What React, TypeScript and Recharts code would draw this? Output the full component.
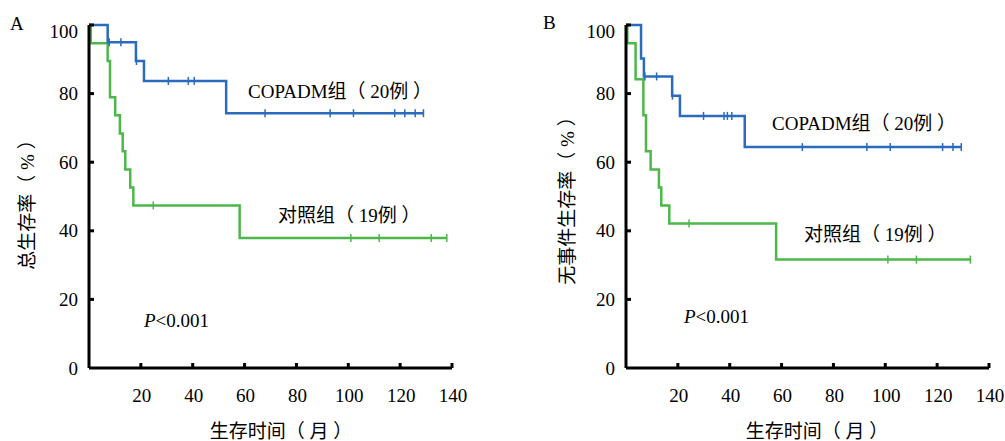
import { Line, LineChart, XAxis, YAxis } from 'recharts'

// Panel A: overall survival
const osCopadmTimes = [0, 7.2, 18.1, 21.2, 52.9]
const osCopadmSurv = [100, 95, 89.5, 83.7, 74.3]
const osCopadmCensor = [7.8, 12.3, 18.3, 30.6, 38.3, 40.6, 67.9, 93, 102, 117.9, 121.8, 125.8, 129]

const osControlTimes = [0, 0.7, 7.2, 8.1, 10.1, 11.9, 13.0, 14.0, 15.9, 17.1, 58.1]
const osControlSurv = [100, 94.7, 89.5, 78.9, 73.7, 68.4, 63.2, 57.9, 52.6, 47.4, 37.9]
const osControlCensor = [24.8, 101, 111.9, 132, 138]

// Panel B: event-free survival
const efsCopadmTimes = [0, 5.8, 6.9, 17.8, 20.8, 45.8]
const efsCopadmSurv = [100, 90.2, 85, 79.4, 73.5, 64.4]
const efsCopadmCensor = [7.3, 11.8, 17.9, 29.9, 37.8, 39.1, 40.8, 68, 92.9, 101.9, 122.1, 126.1, 129.3]

const efsControlTimes = [0, 0.5, 3.7, 6.7, 7.7, 9.5, 12.7, 13.6, 16.7, 57.9]
const efsControlSurv = [100, 94.7, 84.2, 73.7, 63.2, 57.9, 52.6, 47.4, 42.1, 31.6]
const efsControlCensor = [24.3, 101, 112, 132.8]

const xTicks = [20, 40, 60, 80, 100, 120, 140]
const yTicks = [0, 20, 40, 60, 80, 100]

const BLUE = '#2a6bbd'
const GREEN = '#4cb84a'
const FONT = '"Liberation Serif", "Times New Roman", "DejaVu Serif", "Noto Sans CJK SC"'

type Pt = { t: number; s: number; c: boolean }

// step points + censor marks (censor sits at the current step level)
function buildCurve(times: number[], surv: number[], censor: number[]): Pt[] {
  const pts: Pt[] = times.map((t, i) => ({ t, s: surv[i], c: false }))
  censor.forEach((t) => {
    let s = surv[0]
    times.forEach((et, i) => {
      if (et <= t) s = surv[i]
    })
    pts.push({ t, s, c: true })
  })
  return pts.sort((a, b) => a.t - b.t)
}

const XTick = (props: any) => {
  const { x, y, payload } = props
  return (
    <g>
      <line x1={x} y1={y} x2={x} y2={y - 5} stroke="#000" strokeWidth={3} />
      <text x={x + 1} y={y + 34} textAnchor="middle" style={{ fontFamily: FONT, fontSize: 19 }} fill="#000">
        {payload.value}
      </text>
    </g>
  )
}

const YTick = (props: any) => {
  const { x, y, payload } = props
  return (
    <g>
      {payload.value > 0 && <line x1={x} y1={y} x2={x + 5} y2={y} stroke="#000" strokeWidth={3} />}
      <text x={x - 11} y={Math.max(y, 31) + 6.5} textAnchor="end" style={{ fontFamily: FONT, fontSize: 19 }} fill="#000">
        {payload.value}
      </text>
    </g>
  )
}

const censorDot = (color: string) => (props: any) => {
  const { cx, cy, payload, index } = props
  if (!payload.c) return <g key={`n${index}`} />
  return <line key={`c${index}`} x1={cx} y1={cy - 4} x2={cx} y2={cy + 4} stroke={color} strokeWidth={1.5} />
}

function KmPanel({ blue, green }: { blue: Pt[]; green: Pt[] }) {
  return (
    <LineChart width={502} height={441} margin={{ top: 25, right: 50, left: 0, bottom: 0 }}>
      <XAxis
        type="number"
        dataKey="t"
        domain={[0, 140]}
        ticks={xTicks}
        height={73}
        tickSize={0}
        tickMargin={0}
        tickLine={false}
        tick={XTick}
        axisLine={{ stroke: '#000', strokeWidth: 3 }}
        allowDataOverflow
      />
      <YAxis
        type="number"
        domain={[0, 100]}
        ticks={yTicks}
        width={89}
        tickSize={0}
        tickMargin={0}
        tickLine={false}
        tick={YTick}
        axisLine={{ stroke: '#000', strokeWidth: 3 }}
      />
      <Line
        data={green}
        dataKey="s"
        type="stepAfter"
        stroke={GREEN}
        strokeWidth={2.5}
        dot={censorDot(GREEN)}
        activeDot={false}
        isAnimationActive={false}
      />
      <Line
        data={blue}
        dataKey="s"
        type="stepAfter"
        stroke={BLUE}
        strokeWidth={2.5}
        dot={censorDot(BLUE)}
        activeDot={false}
        isAnimationActive={false}
      />
    </LineChart>
  )
}

export default function App() {
  const osBlue = buildCurve(osCopadmTimes, osCopadmSurv, osCopadmCensor)
  const osGreen = buildCurve(osControlTimes, osControlSurv, osControlCensor)
  const efsBlue = buildCurve(efsCopadmTimes, efsCopadmSurv, efsCopadmCensor)
  const efsGreen = buildCurve(efsControlTimes, efsControlSurv, efsControlCensor)

  const txt = { style: { fontFamily: FONT, fontSize: 19 }, fill: '#000' }

  return (
    <div style={{ position: 'absolute', left: 0, top: 0, width: 1005, height: 441, background: '#fff', overflow: 'hidden' }}>
      <div style={{ position: 'absolute', left: 0, top: 0 }}>
        <KmPanel blue={osBlue} green={osGreen} />
      </div>
      <div style={{ position: 'absolute', left: 537, top: 0 }}>
        <KmPanel blue={efsBlue} green={efsGreen} />
      </div>
      <svg width={1005} height={441} style={{ position: 'absolute', left: 0, top: 0, pointerEvents: 'none' }}>
        <text x={10} y={30} {...txt}>A</text>
        <text x={543} y={29} {...txt}>B</text>

        <text x={248} y={98} {...txt}>COPADM组（ 20例 ）</text>
        <text x={278} y={222} {...txt}>对照组（ 19例 ）</text>
        <text x={144} y={327} {...txt}>
          <tspan fontStyle="italic">P</tspan>&lt;0.001
        </text>

        <text x={772} y={130} {...txt}>COPADM组（ 20例 ）</text>
        <text x={804} y={241} {...txt}>对照组（ 19例 ）</text>
        <text x={684} y={323} {...txt}>
          <tspan fontStyle="italic">P</tspan>&lt;0.001
        </text>

        <text x={281} y={438} textAnchor="middle" {...txt}>生存时间（ 月 ）</text>
        <text x={817} y={438} textAnchor="middle" {...txt}>生存时间（ 月 ）</text>

        <text x={27} y={200} textAnchor="middle" dominantBaseline="central" transform="rotate(-90 27 200)" {...txt}>
          总生存率（ % ）
        </text>
        <text x={567} y={196} textAnchor="middle" dominantBaseline="central" transform="rotate(-90 567 196)" {...txt}>
          无事件生存率（ % ）
        </text>
      </svg>
    </div>
  )
}
